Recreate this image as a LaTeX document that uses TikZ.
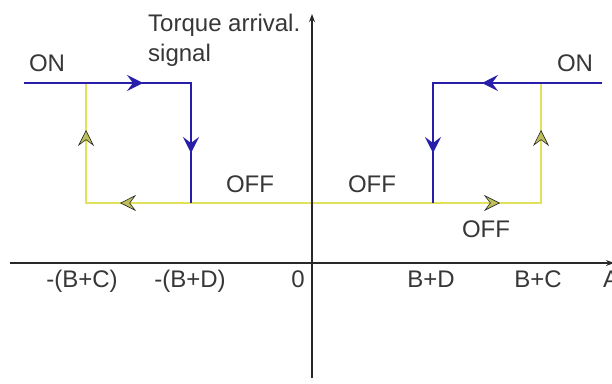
\documentclass[tikz,border=0pt]{standalone}
\usepackage{fontspec}
\setmainfont{Liberation Sans}
\usetikzlibrary{arrows.meta,decorations.markings}
\definecolor{bl}{RGB}{40,30,170}
\definecolor{yl}{RGB}{225,225,90}
\definecolor{ylf}{RGB}{190,190,90}
\definecolor{ax}{RGB}{40,40,40}
\definecolor{tx}{RGB}{55,55,55}
\tikzset{
  lbl/.style={text=tx,font=\fontsize{24}{24}\selectfont,inner sep=0pt,anchor=base},
  lbll/.style={lbl,anchor=base west},
  axis/.style={draw=ax,line width=1.4pt},
  blueline/.style={draw=bl,line width=1.5pt},
  yelline/.style={draw=yl,line width=1.5pt},
  bmark/.style={postaction={decorate,decoration={markings,mark=at position #1 with {\arrow{Stealth[length=16pt,width=16pt,inset=6pt,color=bl]}}}}},
  ymark/.style={postaction={decorate,decoration={markings,mark=at position #1 with {\arrow{Stealth[length=16pt,width=16pt,inset=6pt,color=ax,fill=ylf,line width=0.6pt]}}}}}
}
\begin{document}
\begin{tikzpicture}[x=1pt,y=-1pt]
\useasboundingbox[fill=white] (0,0) rectangle (612,383);
% coordinates
\coordinate (L0) at (24,83);
\coordinate (Lt) at (191,83);
\coordinate (Lb) at (191,203);
\coordinate (Ly) at (86,83);
\coordinate (Lyb) at (86,203);
\coordinate (M) at (312,203);
\coordinate (R0) at (602,83);
\coordinate (Rt) at (433,83);
\coordinate (Rb) at (433,203);
\coordinate (Ry) at (541,83);
\coordinate (Ryb) at (541,203);
\coordinate (Xl) at (10,263);
\coordinate (Xr) at (614,263);
\coordinate (Yb) at (312,378);
\coordinate (Yt) at (312,14);
% yellow paths
\draw[yelline,ymark=192pt,ymark=299pt] (M) -- (Lyb) -- (Ly);
\draw[yelline,ymark=188pt,ymark=302pt] (M) -- (Ryb) -- (Ry);
% blue paths
\draw[blueline,bmark=119pt,bmark=237pt] (L0) -- (Lt) -- (Lb);
\draw[blueline,bmark=120pt,bmark=239pt] (R0) -- (Rt) -- (Rb);
% axes
\draw[axis,-{Stealth[length=8pt,width=6pt]}] (Xl) -- (Xr);
\draw[axis,-{Stealth[length=8pt,width=6pt]}] (Yb) -- (Yt);
% labels
\node[lbl] (onl) at (47,71) {ON};
\node[lbl] (onr) at (575,71) {ON};
\node[lbll] (t1) at (148,31) {Torque arrival.};
\node[lbll] (t2) at (148,61) {signal};
\node[lbl] (off1) at (250,192) {OFF};
\node[lbl] (off2) at (372,192) {OFF};
\node[lbl] (off3) at (486,237) {OFF};
\node[lbl] (k1) at (82,287) {-(B+C)};
\node[lbl] (k2) at (190,287) {-(B+D)};
\node[lbl] (k3) at (298,287) {0};
\node[lbl] (k4) at (431,287) {B+D};
\node[lbl] (k5) at (538,287) {B+C};
\node[lbll] (k6) at (603,287) {A};
\end{tikzpicture}
\end{document}
